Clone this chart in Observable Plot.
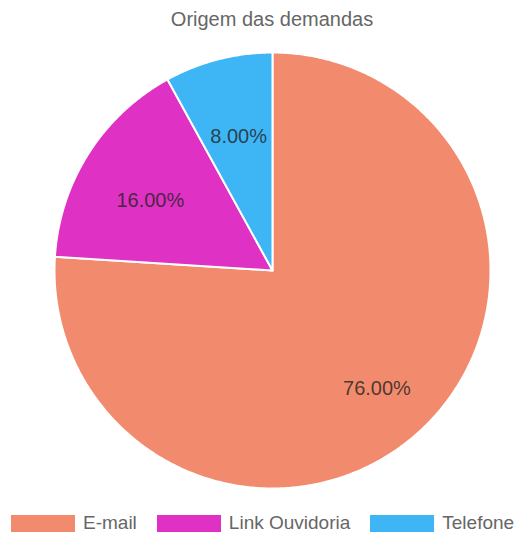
<!DOCTYPE html>
<html>
<head>
<meta charset="utf-8">
<script src="https://cdn.jsdelivr.net/npm/d3@7"></script>
<script src="https://cdn.jsdelivr.net/npm/@observablehq/plot@0.6"></script>
<style>
  body { margin: 0; background: #fff; font-family: "Liberation Sans", Arial, sans-serif; overflow: hidden; }
  #title { height: 30px; line-height: 39px; text-align: center; font-size: 20px; color: #666; white-space: nowrap; padding-left: 21px; }
  #legend { height: 34px; padding-top: 6px; display: flex; align-items: center; padding-left: 11px; font-size: 19px; color: #666; white-space: nowrap; }
  .item { display: flex; align-items: center; margin-right: 20px; }
  .sw { width: 64px; height: 17px; margin-right: 8px; box-sizing: border-box; }
</style>
</head>
<body>
<div id="title"></div>
<div id="chart"></div>
<div id="legend"></div>
<script>
const titleText = "Origem das demandas";
const categories = ["E-mail", "Link Ouvidoria", "Telefone"];
const values = [76, 16, 8];
const colors = ["#f28b6d", "#df31c3", "#3eb6f6"];

const total = d3.sum(values);
const pie = d3.pie().sort(null).value(d => d)(values);

// polygon points for each slice (angle clockwise from top)
const pts = [];
pie.forEach((s, i) => {
  const name = categories[i];
  pts.push({name, x: 0, y: 0});
  const n = Math.max(2, Math.ceil((s.endAngle - s.startAngle) / (Math.PI / 360)));
  for (let k = 0; k <= n; k++) {
    const a = s.startAngle + (s.endAngle - s.startAngle) * k / n;
    pts.push({name, x: Math.sin(a), y: Math.cos(a)});
  }
  pts.push({name, x: 0, y: 0});
});

const labels = pie.map((s, i) => {
  const a = (s.startAngle + s.endAngle) / 2;
  const r = 0.68;
  return {name: categories[i], x: r * Math.sin(a), y: r * Math.cos(a), text: (values[i] / total * 100).toFixed(2) + "%"};
});

const chart = Plot.plot({
  width: 523,
  height: 470,
  marginLeft: 54,
  marginRight: 33,
  marginTop: 22,
  marginBottom: 12,
  x: {domain: [-1, 1], axis: null},
  y: {domain: [-1, 1], axis: null},
  color: {domain: categories, range: colors},
  style: {fontFamily: "Liberation Sans, Arial, sans-serif", background: "white"},
  marks: [
    Plot.line(pts, {x: "x", y: "y", z: "name", fill: "name", stroke: "white", strokeWidth: 2, strokeLinejoin: "round"}),
    Plot.text(labels, {x: "x", y: "y", text: "text", fill: "#222", fillOpacity: 0.8, fontSize: 20, dx: 3, dy: 10})
  ]
});
document.getElementById("chart").appendChild(chart);

const legend = document.getElementById("legend");
categories.forEach((c, i) => {
  const it = document.createElement("div");
  it.className = "item";
  const sw = document.createElement("div");
  sw.className = "sw";
  sw.style.background = colors[i];
  it.appendChild(sw);
  const t = document.createElement("span");
  t.textContent = c;
  it.appendChild(t);
  legend.appendChild(it);
});
document.getElementById("title").textContent = titleText;
</script>
</body>
</html>
